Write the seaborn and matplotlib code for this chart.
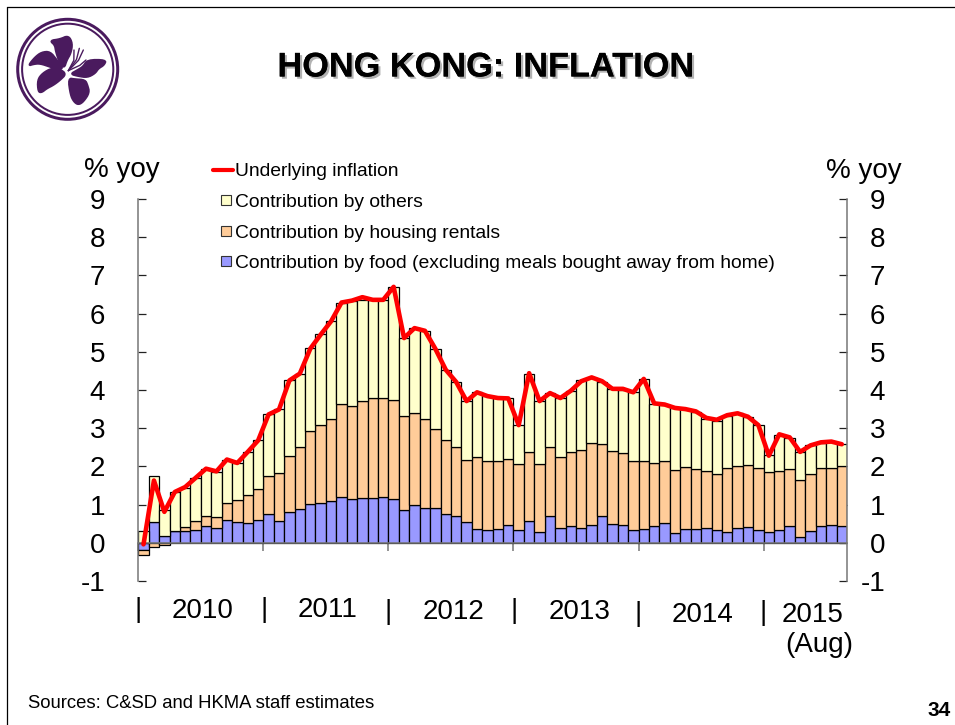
import numpy as np
import matplotlib
matplotlib.use("Agg")
import matplotlib.pyplot as plt
import matplotlib.patheffects as pe
from matplotlib.lines import Line2D
from matplotlib.patches import Patch, Rectangle, Polygon, Circle
from matplotlib.legend_handler import HandlerPatch
from matplotlib.ticker import FuncFormatter
import seaborn as sns

# ---- data -------------------------------------------------------------
food = [-0.19, .54, .19, .30, .31, .34, .44, .38, .59, .54, .52, .59,
        .76, .58, .80, .89, 1.02, 1.05, 1.09, 1.19, 1.15, 1.18, 1.18, 1.19,
        1.15, .85, .99, .92, .91, .75, .70, .55, .37, .34, .37, .46,
        .33, .58, .28, .70, .38, .45, .38, .47, .71, .49, .47, .34,
        .36, .44, .51, .26, .36, .36, .38, .33, .28, .38, .41, .33,
        .28, .33, .43, .15, .31, .44, .46, .44]
housing = [-0.14, -0.12, -0.07, .02, .11, .22, .27, .30, .46, .57, .73, .83,
           .98, 1.24, 1.48, 1.63, 1.90, 2.03, 2.15, 2.44, 2.43, 2.54, 2.60, 2.61,
           2.60, 2.46, 2.42, 2.32, 2.07, 1.94, 1.81, 1.61, 1.87, 1.81, 1.77, 1.74,
           1.74, 1.81, 1.79, 1.80, 1.87, 1.92, 2.04, 2.14, 1.88, 1.91, 1.87, 1.80,
           1.78, 1.65, 1.64, 1.64, 1.62, 1.58, 1.49, 1.46, 1.68, 1.64, 1.63, 1.63,
           1.58, 1.54, 1.50, 1.50, 1.50, 1.52, 1.51, 1.57]
others = [.30, 1.21, .67, 1.01, 1.02, 1.14, 1.21, 1.18, 1.12, .98, 1.13, 1.27,
          1.62, 1.68, 1.97, 1.91, 2.17, 2.38, 2.56, 2.65, 2.74, 2.63, 2.57, 2.56,
          2.95, 2.05, 2.21, 2.31, 2.10, 1.84, 1.70, 1.55, 1.70, 1.69, 1.65, 1.58,
          1.02, 2.03, 1.64, 1.41, 1.54, 1.60, 1.83, 1.71, 1.62, 1.63, 1.67, 1.80,
          2.15, 1.54, 1.47, 1.62, 1.52, 1.48, 1.37, 1.41, 1.37, 1.38, 1.26, 1.12,
          .43, .96, .82, .73, .75, .66, .67, .57]
underlying = [-.04, 1.63, .81, 1.33, 1.46, 1.70, 1.94, 1.87, 2.18, 2.09, 2.38, 2.68,
              3.36, 3.49, 4.25, 4.43, 5.08, 5.45, 5.80, 6.29, 6.34, 6.43, 6.36, 6.36,
              6.70, 5.36, 5.62, 5.55, 5.08, 4.53, 4.21, 3.71, 3.94, 3.84, 3.79, 3.78,
              3.08, 4.44, 3.71, 3.92, 3.79, 3.98, 4.23, 4.33, 4.23, 4.03, 4.03, 3.94,
              4.29, 3.65, 3.62, 3.53, 3.50, 3.44, 3.27, 3.22, 3.34, 3.39, 3.30, 3.08,
              2.28, 2.84, 2.76, 2.38, 2.55, 2.63, 2.65, 2.58]
year_labels = ["2010", "2011", "2012", "2013", "2014", "2015"]
y_ticks = list(range(-1, 10))
legend_labels = ["Underlying inflation", "Contribution by others",
                 "Contribution by housing rentals",
                 "Contribution by food (excluding meals bought away from home)"]

# ---- style ------------------------------------------------------------
W, H = 955, 725
sns.set_theme(style="white")
plt.rcParams["font.family"] = ["Liberation Sans", "DejaVu Sans"]
PT = 72 / 100  # points per pixel at dpi 100
YELLOW, ORANGE, BLUE, RED = "#FFFFCC", "#FFCC99", "#9999FF", "#FF0000"
GRAY = "#777777"
PURPLE = "#4A1A5E"
BIG = 20

fig = plt.figure(figsize=(W / 100, H / 100), dpi=100, facecolor="white")


def px(x, y):
    return x / W, 1 - y / H


left, top = px(138.3, 199)
right, bottom = px(847, 581)
ax = fig.add_axes([left, bottom, right - left, top - bottom])

# ---- stacked bars -----------------------------------------------------
n = len(food)
months = np.arange(n)
pos_base = np.zeros(n)
neg_base = np.zeros(n)
for values, colour in ((food, BLUE), (housing, ORANGE), (others, YELLOW)):
    v = np.array(values)
    base = np.where(v >= 0, pos_base, neg_base)
    sns.barplot(x=months, y=v, bottom=base, color=colour, saturation=1,
                width=1, edgecolor="black", linewidth=0.9, errorbar=None, ax=ax)
    pos_base += np.clip(v, 0, None)
    neg_base += np.clip(v, None, 0)

sns.lineplot(x=months, y=underlying, color=RED, linewidth=3.3, ax=ax,
             solid_joinstyle="round", solid_capstyle="round", errorbar=None,
             clip_on=False, zorder=5)

# ---- axes -------------------------------------------------------------
ax.set_xlim(-0.5, n - 0.5)
ax.set_ylim(-1, 9)
ax.set_xlabel("")
ax.set_ylabel("")
ax.set_facecolor("none")
ax.spines["top"].set_visible(False)
for s in ("left", "right", "bottom"):
    ax.spines[s].set_visible(True)
    ax.spines[s].set_color(GRAY)
    ax.spines[s].set_linewidth(1.1)
ax.spines["bottom"].set_position(("data", 0))
ax.set_xticks(np.arange(0, n, 12) - 0.5)
ax.set_xticklabels([])
ax.tick_params(axis="x", which="both", bottom=True, direction="out",
               length=8 * PT, width=1.1, color=GRAY, labelbottom=False)
ax.set_yticks(y_ticks)
ax.yaxis.set_major_formatter(FuncFormatter(lambda v, _: f"{v:.0f}"))
ax.tick_params(axis="y", left=True, right=True, labelleft=True, labelright=True,
               direction="in", length=8 * PT, width=0.9, color="#222222",
               labelsize=BIG, labelcolor="black", pad=33 * PT)
for t in ax.yaxis.get_major_ticks():
    t.label2.set_horizontalalignment("right")
    t.label2.set_x(1 + 5 / (847 - 138.3))


# ---- legend -----------------------------------------------------------
def small_square(legend, orig_handle, xdescent, ydescent, width, height, fontsize):
    side = 10 * PT
    return Rectangle((width - side - 2 * PT - xdescent, (height - side) / 2 - ydescent),
                     side, side)


handles = [Line2D([], [], color=RED, linewidth=3.0),
           Patch(facecolor=YELLOW, edgecolor="#333333", linewidth=0.8),
           Patch(facecolor=ORANGE, edgecolor="#333333", linewidth=0.8),
           Patch(facecolor=BLUE, edgecolor="#333333", linewidth=0.8)]
leg = fig.legend(handles, legend_labels, loc="upper left",
                 bbox_to_anchor=px(213, 163), frameon=False, fontsize=13.87,
                 handlelength=1.03, handletextpad=0.1, borderpad=0, borderaxespad=0,
                 labelspacing=0.68, labelcolor="black",
                 handler_map={Patch: HandlerPatch(patch_func=small_square)})


# ---- text -------------------------------------------------------------
def label(x, y, s, size, ha="center", va="center", **kw):
    return fig.text(*px(x, y), s, fontsize=size, ha=ha, va=va, color="black", **kw)


label(122, 170, "% yoy", BIG)
label(863.5, 171, "% yoy", BIG)
year_x = [203, 328, 453, 579.5, 703, 813]
year_y = [611, 610, 612, 612, 615, 615]
sep_x = [138, 264, 388, 514, 638, 763]
sep_y = [610, 610, 612, 611, 614, 613]
for x, y, s in zip(year_x, year_y, year_labels):
    label(x, y, s, BIG)
for x, y in zip(sep_x, sep_y):
    label(x, y, "|", BIG)
label(819, 645, "(Aug)", BIG)
label(28, 703.5, "Sources: C&SD and HKMA staff estimates", 13.35, ha="left")
label(951, 711, "34", 15, ha="right", fontweight="bold")
title = label(485, 68, "HONG KONG: INFLATION", 24.7, fontweight="bold")
title.set_path_effects([pe.withSimplePatchShadow(offset=(1.6, -1.6),
                                                 shadow_rgbFace="#666666", alpha=0.5),
                        pe.Normal()])

# ---- slide frame ------------------------------------------------------
fig.add_artist(Line2D([px(7, 0)[0], px(7, 0)[0]], [px(0, 7)[1], 0], color="black", lw=0.9))
fig.add_artist(Line2D([px(7, 0)[0], 1], [px(0, 7)[1], px(0, 7)[1]], color="black", lw=0.9))

# ---- logo (decoration) ------------------------------------------------
logo_ax = fig.add_axes([0, 0, 1, 1], facecolor="none", zorder=-1)
logo_ax.set_xlim(0, W)
logo_ax.set_ylim(H, 0)
logo_ax.axis("off")
logo_ax.add_patch(Circle((67.7, 69.3), 50, fill=False, ec=PURPLE, lw=3.0 * PT))
logo_ax.add_patch(Circle((67.7, 69.3), 45.6, fill=False, ec=PURPLE, lw=2.0 * PT))
petals = [
    [(150, 122), (180, 118), (205, 107), (217, 130), (212, 160), (200, 180), (192, 205),
     (178, 185), (168, 155), (165, 135)],
    [(85, 197), (105, 172), (125, 157), (150, 155), (170, 180), (190, 205), (172, 208),
     (150, 200), (120, 190), (100, 192)],
    [(115, 275), (113, 240), (128, 220), (155, 205), (180, 208), (198, 222), (180, 240),
     (160, 255), (140, 265), (125, 277)],
    [(205, 235), (225, 238), (255, 240), (262, 255), (268, 278), (250, 305), (235, 314),
     (222, 305), (212, 285)],
    [(262, 180), (318, 180), (312, 195), (295, 205), (285, 220), (262, 232), (235, 228),
     (212, 222), (230, 212), (250, 200)],
]


def rounded(points, passes=2):
    pts = np.array(points, dtype=float)
    for _ in range(passes):
        nxt = np.roll(pts, -1, axis=0)
        pts = np.column_stack([0.75 * pts + 0.25 * nxt, 0.25 * pts + 0.75 * nxt]).reshape(-1, 2)
    return pts


for p in petals:
    logo_ax.add_patch(Polygon(rounded(p) / 3, closed=True, fc=PURPLE, ec=PURPLE,
                              lw=1.6, joinstyle="round"))
for end in [(222, 150), (238, 145), (250, 150), (258, 180)]:
    logo_ax.plot([205 / 3, (205 + end[0]) / 6 + 8 / 3, end[0] / 3],
                 [212 / 3, (212 + end[1]) / 6, end[1] / 3],
                 color=PURPLE, lw=1.0, solid_capstyle="round")

fig.savefig("out.png", dpi=100, facecolor="white")
